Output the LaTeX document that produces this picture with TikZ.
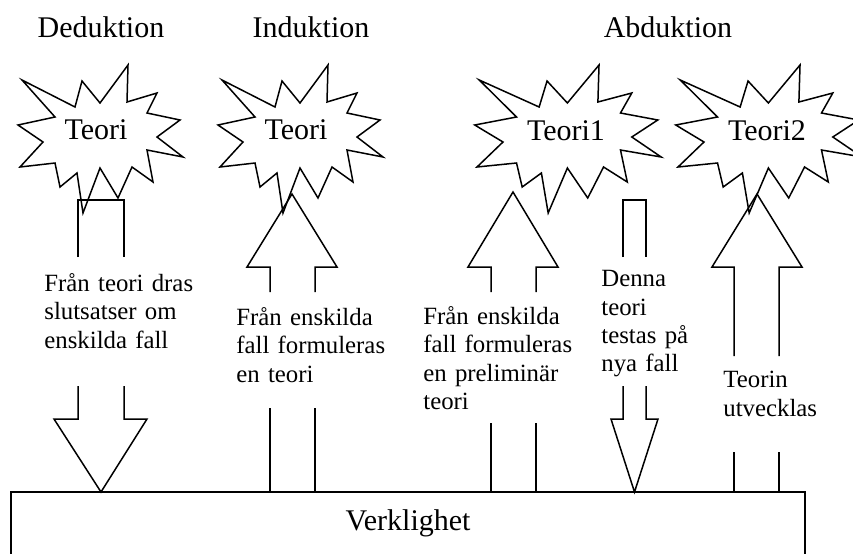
\documentclass[tikz,border=0pt]{standalone}
\usepackage{fontspec}
\setmainfont{Liberation Serif}
\tikzset{
  outline/.style={draw, line width=0.75pt, line join=miter},
  heading/.style={font=\fontsize{15}{18}\selectfont, inner sep=0pt, anchor=base},
  caption/.style={font=\fontsize{12.4}{14.2}\selectfont, text width=80pt, align=left, inner sep=0pt, anchor=north west},
  burst/.pic={
    \draw[outline] (-75,-50) -- (-22,-23) -- (-15,-49) -- (3,-27) -- (31,-65) -- (30,-28)
      -- (60,-37) -- (50,-17) -- (83,-10) -- (60,7) -- (86,27) -- (50,20) -- (56,52)
      -- (35,37) -- (21,68) -- (3,38) -- (-14,83) -- (-20,43) -- (-37,57) -- (-42,33)
      -- (-77,37) -- (-54,12) -- (-79,-5) -- (-42,-13) -- cycle;
  },
}
\begin{document}
\begin{tikzpicture}[x=0.5pt, y=-0.5pt]
  \useasboundingbox (0,0) rectangle (853,553);

  % Headings
  \node[heading] (ded) at (101,37) {Deduktion};
  \node[heading] (ind) at (311,37) {Induktion};
  \node[heading] (abd) at (668,37) {Abduktion};

  % Theory bursts
  \pic at (97,130) {burst};
  \pic at (297,130) {burst};
  \pic[xscale=1.13] at (564,130) {burst};
  \pic[xscale=1.13] at (765,130) {burst};
  \node[heading] (th1) at (96,139) {Teori};
  \node[heading] (th2) at (296,139) {Teori};
  \node[heading] (th3) at (566,140) {Teori1};
  \node[heading] (th4) at (767,140) {Teori2};

  % Reality
  \draw[outline] (11,492) rectangle (805,580);
  \node[heading] (verk) at (408,530) {Verklighet};

  % Deduction arrow (down)
  \draw[outline] (78,257) -- (78,200) -- (124,200) -- (124,257);
  \draw[outline] (78,386) -- (78,419) -- (54,419) -- (101,492) -- (147,419) -- (124,419) -- (124,386);
  \node[caption] (c1) at (44,273) {Från teori dras\\ slutsatser om\\ enskilda fall};

  % Induction arrow (up)
  \draw[outline] (270,292) -- (270,267) -- (247,267) -- (292,194) -- (337,267) -- (315,267) -- (315,292);
  \draw[outline] (270,408) -- (270,492) (315,408) -- (315,492);
  \node[caption] (c2) at (236,307) {Från enskilda\\ fall formuleras\\ en teori};

  % Abduction: preliminary theory (up)
  \draw[outline] (491,292) -- (491,267) -- (468,267) -- (513,192) -- (558,267) -- (536,267) -- (536,292);
  \draw[outline] (491,423) -- (491,492) (536,423) -- (536,492);
  \node[caption] (c3) at (423,306) {Från enskilda\\ fall formuleras\\ en preliminär\\ teori};

  % Abduction: testing (down)
  \draw[outline] (623,257) -- (623,200) -- (646,200) -- (646,257);
  \draw[outline] (623,386) -- (623,419) -- (611,419) -- (634.5,492) -- (658,419) -- (646,419) -- (646,386);
  \node[caption] (c4) at (601,270) {Denna\\ teori\\ testas på\\ nya fall};

  % Abduction: development (up)
  \draw[outline] (734,356) -- (734,267) -- (712,267) -- (757,194) -- (802,267) -- (779,267) -- (779,356);
  \draw[outline] (734,452) -- (734,492) (779,452) -- (779,492);
  \node[caption] (c5) at (723,371) {Teorin\\ utvecklas};
\end{tikzpicture}
\end{document}
